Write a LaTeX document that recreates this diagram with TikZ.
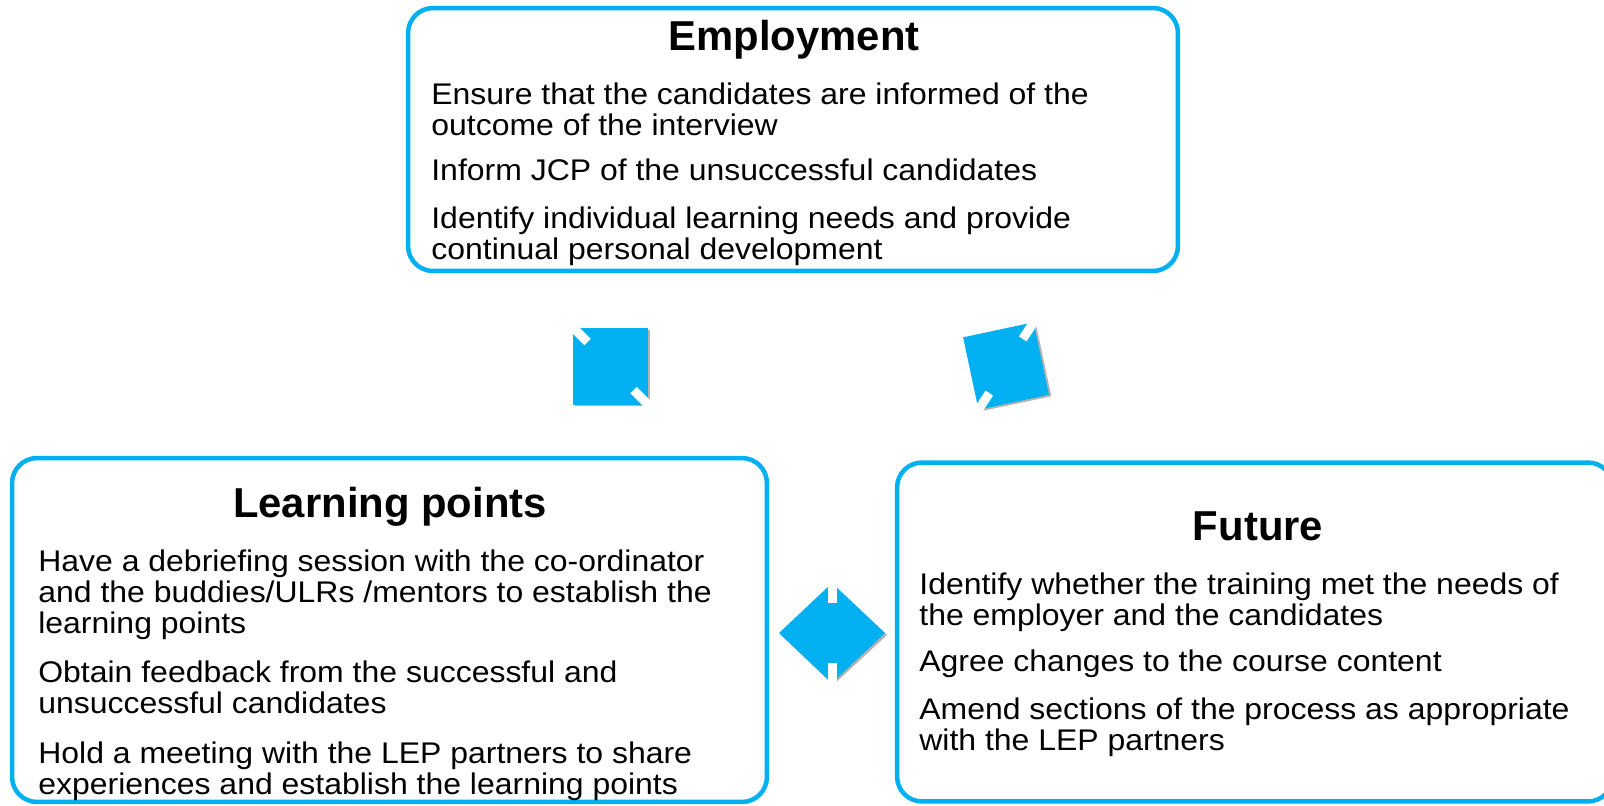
\documentclass[tikz,border=0pt]{standalone}
\usepackage{fontspec}
\setmainfont{Liberation Sans}
\newfontfamily\bodyfont{Liberation Sans}[FakeStretch=1.07]
\definecolor{cyanline}{RGB}{0,176,240}
\tikzset{
  panel/.style={draw=cyanline, line width=0.09cm, rounded corners=0.5cm, fill=white},
  paneltitle/.style={anchor=base, inner sep=0pt, font=\fontsize{23.8}{26}\selectfont\bfseries},
  itemtext/.style={anchor=base west, align=left, inner sep=0pt, font=\bodyfont\fontsize{17}{17.6}\selectfont},
  slit/.style={white, line width=0.18cm},
  shade/.style={fill=black!30}
}
\begin{document}
\begin{tikzpicture}[x=0.02cm,y=-0.02cm]
  \useasboundingbox (0,0) rectangle (1604,805);
  % the three panels
  \node[panel, minimum width=15.4cm, minimum height=5.26cm] (employment) at (793,139.5) {};
  \node[panel, minimum width=15.1cm, minimum height=6.88cm] (learning) at (389.5,630) {};
  \node[panel, minimum width=14.32cm, minimum height=6.78cm] (future) at (1255,632) {};

  % employment (positions are the baseline of the last line)
  \node[paneltitle] (emptitle) at (794,50) {Employment};
  \node[itemtext] (emp1) at (431,135) {Ensure that the candidates are informed of the\\outcome of the interview};
  \node[itemtext] (emp2) at (431,180) {Inform JCP of the unsuccessful candidates};
  \node[itemtext] (emp3) at (431,259) {Identify individual learning needs and provide\\continual personal development};

  % learning points
  \node[paneltitle] (learntitle) at (390,517) {Learning points};
  \node[itemtext] (learn1) at (38,633) {Have a debriefing session with the co-ordinator\\and the buddies/ULRs /mentors to establish the\\learning points};
  \node[itemtext] (learn2) at (38,713) {Obtain feedback from the successful and\\unsuccessful candidates};
  \node[itemtext] (learn3) at (38,794) {Hold a meeting with the LEP partners to share\\experiences and establish the learning points};

  % future
  \node[paneltitle] (futtitle) at (1258,540) {Future};
  \node[itemtext] (fut1) at (919,625) {Identify whether the training met the needs of\\the employer and the candidates};
  \node[itemtext] (fut2) at (919,671) {Agree changes to the course content};
  \node[itemtext] (fut3) at (919,750) {Amend sections of the process as appropriate\\with the LEP partners};

  % double arrows
  \begin{scope}[shift={(610.5,366)}]
    \fill[shade] (-36,-36) rectangle (39,40);
    \fill[cyanline] (-37.5,-38.5) rectangle (37.5,38.5);
    \draw[slit] (-42,-43) -- (-23,-24) (42,43) -- (23,24);
  \end{scope}
  \begin{scope}[shift={(1006,366)},rotate=12]
    \fill[shade] (-35,-35) rectangle (38,39);
    \fill[cyanline] (-36,-37) rectangle (36,37);
    \draw[slit] (41,-42) -- (22,-23) (-41,42) -- (-22,23);
  \end{scope}
  \begin{scope}[shift={(832,633)}]
    \fill[shade] (-51,2) -- (1,-48) -- (55,2) -- (1,52) -- cycle;
    \fill[cyanline] (-53,0) -- (0,-50) -- (53,0) -- (0,50) -- cycle;
    \draw[slit] (0,-56) -- (0,-30) (0,56) -- (0,30);
  \end{scope}
\end{tikzpicture}
\end{document}
